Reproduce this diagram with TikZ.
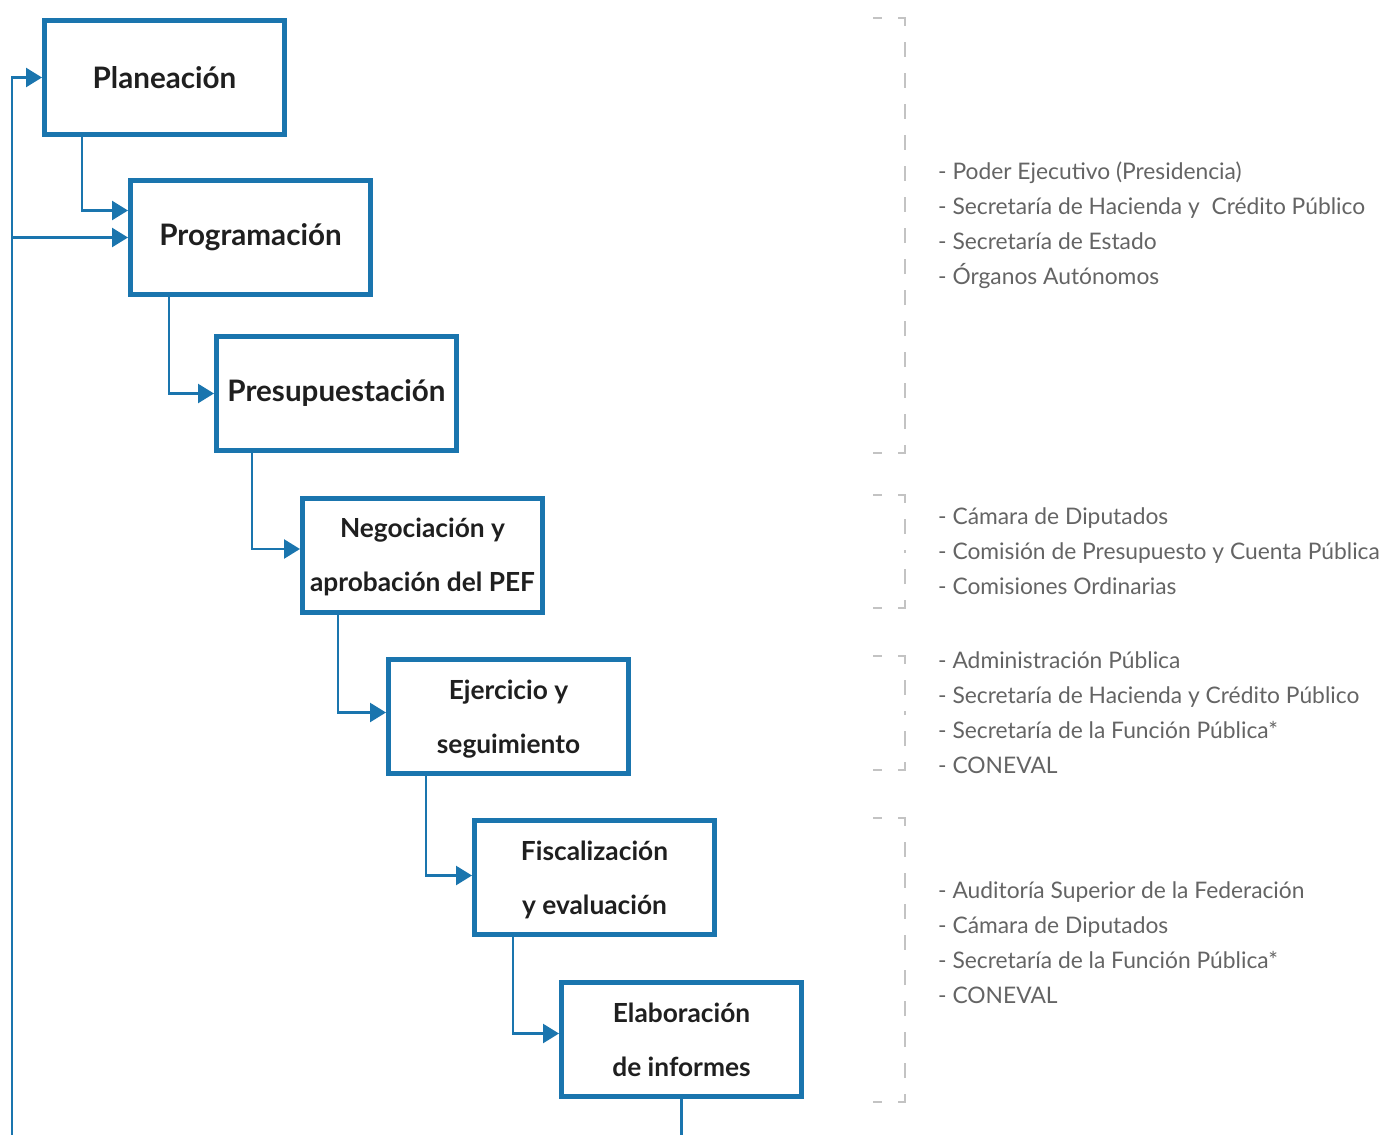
\documentclass[tikz,border=0pt]{standalone}
\usepackage{fontspec}
\setmainfont{Lato}
\usetikzlibrary{arrows.meta,positioning}
\definecolor{FlowBlue}{RGB}{26,117,174}
\definecolor{DashGray}{RGB}{195,195,195}
\definecolor{ListGray}{RGB}{100,100,100}
% fixed line height for the two-line stages
\newcommand{\topline}{\rule{0pt}{25pt}}
\newcommand{\botline}{\rule[-6pt]{0pt}{0pt}}

\begin{document}
\begin{tikzpicture}[x=1pt,y=-1pt,
    stage/.style={draw=FlowBlue, line width=5pt, minimum width=240pt, minimum height=114pt,
      inner sep=0pt, align=center, text=black!88, font=\bfseries\fontsize{29.6}{35}\selectfont},
    stagetwo/.style={stage, font=\bfseries\fontsize{26.3}{54}\selectfont},
    flow/.style={draw=FlowBlue, line width=2.5pt, -{Triangle[length=16pt,width=19pt]}},
    bracket/.style={draw=DashGray, line width=2pt, dash pattern=on 15pt off 16pt, dash phase=6pt},
    item/.style={anchor=base west, inner sep=0pt, text=ListGray, font=\fontsize{22.8}{28}\selectfont}]
  \useasboundingbox (0,0) rectangle (1385,1135);

  % stages of the cycle
  \node[stage] (plan) at (164.5,77.5) {Planeación};
  \node[stage] (prog) at (250.5,237.5) {Programación};
  \node[stage] (pres) at (336.5,393.5) {Presupuestación};
  \node[stagetwo] (nego) at (422.5,555) {\topline Negociación y\\aprobación del PEF\botline};
  \node[stagetwo] (ejer) at (508.5,716.5) {\topline Ejercicio y\\seguimiento\botline};
  \node[stagetwo] (fisc) at (594.5,877.5) {\topline Fiscalización\\y evaluación\botline};
  \node[stagetwo] (elab) at (681.5,1039.5) {\topline Elaboración\\de informes\botline};

  % step connectors
  \draw[flow] ([xshift=40pt]plan.south west) |- ([yshift=27pt]prog.west);
  \draw[flow] ([xshift=41pt]prog.south west) |- (pres.west);
  \draw[flow] ([xshift=38pt]pres.south west) |- ([yshift=6pt]nego.west);
  \draw[flow] ([xshift=38pt]nego.south west) |- ([yshift=4pt]ejer.west);
  \draw[flow] ([xshift=40pt]ejer.south west) |- ([yshift=2pt]fisc.west);
  \draw[flow] ([xshift=41pt]fisc.south west) |- ([yshift=6pt]elab.west);

  % feedback loop
  \coordinate (loopend) at (681.5,1135);
  \coordinate (loopstart) at (12,1135);
  \draw[FlowBlue, line width=2.5pt] (elab.south) -- (loopend);
  \draw[flow] (loopstart) |- (plan.west);
  \draw[flow] (loopstart |- prog.west) -- (prog.west);

  % brackets, drawn from both ends so the corners match
  \draw[bracket] (873,18) -| (905,235.5);
  \draw[bracket] (873,453) -| (905,235.5);
  \draw[bracket] (873,495) -| (905,551.5);
  \draw[bracket] (873,608) -| (905,551.5);
  \draw[bracket] (873,656) -| (905,713);
  \draw[bracket] (873,770) -| (905,713);
  \draw[bracket] (873,818) -| (905,960);
  \draw[bracket] (873,1102) -| (905,960);

  % actors
  \foreach \txt [count=\i] in {- Poder Ejecutivo (Presidencia),
      - Secretaría de Hacienda y\ \ Crédito Público,
      - Secretaría de Estado, - Órganos Autónomos}
    \node[item] (ejec-\i) at (938,144+35*\i) {\txt};
  \foreach \txt [count=\i] in {- Cámara de Diputados,
      - Comisión de Presupuesto y Cuenta Pública, - Comisiones Ordinarias}
    \node[item] (legis-\i) at (938,489+35*\i) {\txt};
  \foreach \txt [count=\i] in {- Administración Pública,
      - Secretaría de Hacienda y Crédito Público,
      - Secretaría de la Función Pública*, - CONEVAL}
    \node[item] (admin-\i) at (938,633+35*\i) {\txt};
  \foreach \txt [count=\i] in {- Auditoría Superior de la Federación,
      - Cámara de Diputados, - Secretaría de la Función Pública*, - CONEVAL}
    \node[item] (audit-\i) at (938,863+35*\i) {\txt};
\end{tikzpicture}
\end{document}
